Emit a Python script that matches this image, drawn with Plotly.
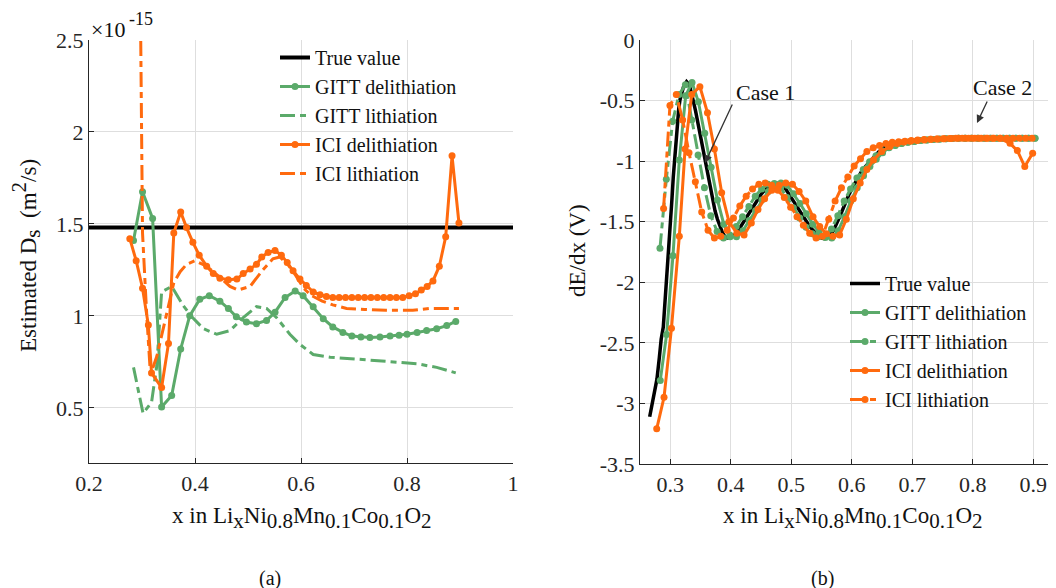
import plotly.graph_objects as go

# page body has an 8px default margin, so the figure is 8px smaller and reference pixels are shifted by 8
OFF = 8
W, H = 1056 - OFF, 588 - OFF
GREEN = "#5BAA6A"
ORANGE = "#FF6A0E"
FONT = "Liberation Serif, Times New Roman, Times, serif"
LITH_DASH = "15px,5px,6px,5px"

# ---------------- Panel (a): estimated diffusivity (x1e-15 m^2/s) ----------------
true_x_a = [0.2, 1.0]
true_d = [1.48, 1.48]

gitt_del_x_a = [0.284, 0.301, 0.32, 0.337, 0.356, 0.373, 0.39, 0.409, 0.427, 0.447, 0.463, 0.478,
                0.497, 0.516, 0.535, 0.551, 0.57, 0.589, 0.604, 0.623, 0.642, 0.66, 0.679, 0.696,
                0.713, 0.73, 0.749, 0.768, 0.785, 0.80, 0.819, 0.837, 0.856, 0.875, 0.892]
gitt_del_d = [1.41, 1.675, 1.53, 0.505, 0.567, 0.82, 1.0, 1.09, 1.11, 1.08, 1.04, 0.995,
              0.967, 0.957, 0.975, 1.02, 1.10, 1.135, 1.11, 1.05, 0.985, 0.94, 0.91, 0.89,
              0.885, 0.882, 0.885, 0.89, 0.895, 0.90, 0.91, 0.92, 0.93, 0.947, 0.97]

gitt_lit_x_a = [0.284, 0.302, 0.318, 0.328, 0.334, 0.337, 0.356, 0.378, 0.394, 0.416, 0.441, 0.466,
                0.491, 0.516, 0.535, 0.554, 0.579, 0.598, 0.623, 0.655, 0.705, 0.768, 0.818, 0.856, 0.892]
gitt_lit_d = [0.72, 0.47, 0.53, 0.73, 1.0, 1.13, 1.16, 1.055, 0.995, 0.93, 0.90, 0.92,
              0.99, 1.05, 1.04, 0.99, 0.90, 0.845, 0.79, 0.775, 0.765, 0.753, 0.74, 0.72, 0.69]

ici_del_x_a = [0.277, 0.289, 0.301, 0.312, 0.318, 0.337, 0.35, 0.36, 0.373, 0.384, 0.396, 0.408,
               0.422, 0.4345, 0.447, 0.463, 0.479, 0.491, 0.504, 0.516, 0.526, 0.538, 0.551, 0.563,
               0.574, 0.585, 0.598, 0.61, 0.623, 0.636, 0.648, 0.66, 0.672, 0.684, 0.696, 0.708,
               0.72, 0.732, 0.744, 0.756, 0.768, 0.78, 0.792, 0.804, 0.816, 0.827, 0.838, 0.849,
               0.861, 0.873, 0.885, 0.898]
ici_del_d = [1.42, 1.30, 1.15, 0.95, 0.69, 0.61, 0.85, 1.45, 1.565, 1.48, 1.40, 1.33,
             1.27, 1.23, 1.205, 1.196, 1.20, 1.23, 1.255, 1.28, 1.32, 1.345, 1.355, 1.33,
             1.29, 1.245, 1.20, 1.165, 1.13, 1.115, 1.105, 1.10, 1.10, 1.10, 1.10, 1.10,
             1.10, 1.10, 1.10, 1.10, 1.10, 1.10, 1.10, 1.11, 1.12, 1.14, 1.16, 1.19,
             1.27, 1.43, 1.87, 1.505]

ici_lit_x_a = [0.296, 0.301, 0.309, 0.316, 0.328, 0.34, 0.353, 0.36, 0.372, 0.384, 0.4, 0.422,
               0.447, 0.466, 0.481, 0.504, 0.528, 0.547, 0.56, 0.575, 0.59, 0.605, 0.62, 0.64,
               0.66, 0.686, 0.72, 0.76, 0.811, 0.843, 0.87, 0.898]
ici_lit_d = [3.0, 1.45, 1.0, 0.68, 0.78, 0.93, 1.09, 1.18, 1.24, 1.28, 1.30, 1.27,
             1.21, 1.16, 1.14, 1.16, 1.25, 1.31, 1.32, 1.28, 1.22, 1.15, 1.11, 1.08,
             1.06, 1.04, 1.035, 1.03, 1.03, 1.04, 1.04, 1.04]

# ---------------- Panel (b): dE/dx (V) ----------------
true_x_b = [0.266, 0.270, 0.275, 0.278, 0.282, 0.285, 0.2885, 0.291, 0.294, 0.297, 0.300,
            0.303, 0.305, 0.308, 0.311, 0.314, 0.316, 0.319, 0.322, 0.327, 0.330, 0.333, 0.336,
            0.338, 0.342, 0.346, 0.350, 0.354, 0.358, 0.362, 0.366, 0.370, 0.374, 0.378, 0.382,
            0.386, 0.390, 0.394, 0.398, 0.402, 0.406, 0.410, 0.415, 0.420, 0.425, 0.430, 0.435,
            0.440, 0.445, 0.450, 0.455, 0.460, 0.465, 0.470, 0.475, 0.480, 0.485, 0.490, 0.495,
            0.500, 0.505, 0.510, 0.515, 0.520, 0.525, 0.530, 0.535, 0.540, 0.545, 0.550, 0.555,
            0.560, 0.565, 0.570, 0.575, 0.580, 0.585, 0.590, 0.595, 0.600, 0.605, 0.610, 0.615,
            0.620, 0.625, 0.630, 0.636, 0.645, 0.652, 0.660, 0.670, 0.680, 0.690, 0.700, 0.720,
            0.740, 0.760, 0.780, 0.800, 0.850, 0.908]
true_dedx = [-3.11, -3.00, -2.87, -2.80, -2.62, -2.47, -2.37, -2.20, -1.95, -1.75, -1.54,
             -1.30, -1.13, -0.92, -0.715, -0.57, -0.495, -0.43, -0.385, -0.344, -0.36, -0.40, -0.45,
             -0.50, -0.59, -0.69, -0.79, -0.90, -1.01, -1.12, -1.22, -1.32, -1.41, -1.48, -1.54,
             -1.585, -1.62, -1.635, -1.635, -1.625, -1.61, -1.59, -1.55, -1.51, -1.47, -1.43, -1.39,
             -1.35, -1.31, -1.275, -1.245, -1.22, -1.20, -1.185, -1.18, -1.185, -1.20, -1.225, -1.26,
             -1.30, -1.34, -1.38, -1.42, -1.46, -1.50, -1.535, -1.565, -1.595, -1.62, -1.635, -1.64,
             -1.63, -1.61, -1.57, -1.52, -1.46, -1.40, -1.33, -1.28, -1.23, -1.18, -1.135, -1.095,
             -1.06, -1.03, -1.00, -0.965, -0.92, -0.895, -0.875, -0.86, -0.85, -0.84, -0.835, -0.825,
             -0.818, -0.814, -0.812, -0.81, -0.81, -0.81]

gitt_del_x_b = [0.2835, 0.294, 0.3045, 0.315, 0.3255, 0.336, 0.3465, 0.357, 0.3675, 0.378, 0.3885, 0.399,
                0.4095, 0.42, 0.4305, 0.441, 0.4515, 0.462, 0.4725, 0.483, 0.4935, 0.504, 0.5145, 0.525,
                0.5355, 0.546, 0.5565, 0.567, 0.5775, 0.588, 0.5985, 0.609, 0.6195, 0.63, 0.6405, 0.651,
                0.6615, 0.672, 0.6825, 0.693, 0.7035, 0.714, 0.7245, 0.735, 0.7455, 0.756, 0.7665, 0.777,
                0.7875, 0.798, 0.8085, 0.819, 0.8295, 0.84, 0.8505, 0.861, 0.8715, 0.882, 0.8925, 0.903]
gitt_del_dedx = [-2.81, -2.43, -1.78, -0.99, -0.46, -0.35, -0.51, -0.77, -1.05, -1.32, -1.52, -1.625,
                 -1.625, -1.575, -1.49, -1.41, -1.32, -1.25, -1.20, -1.18, -1.20, -1.27, -1.35, -1.435,
                 -1.52, -1.585, -1.63, -1.635, -1.575, -1.46, -1.33, -1.22, -1.12, -1.045, -0.985, -0.93,
                 -0.89, -0.87, -0.855, -0.845, -0.838, -0.83, -0.826, -0.822, -0.818, -0.816, -0.814, -0.812,
                 -0.811, -0.81, -0.81, -0.81, -0.81, -0.81, -0.81, -0.81, -0.81, -0.81, -0.81, -0.81]

gitt_lit_x_b = [0.283, 0.2935, 0.304, 0.3145, 0.325, 0.3355, 0.346, 0.3565, 0.367, 0.3775, 0.388, 0.3985,
                0.409, 0.4195, 0.43, 0.4405, 0.451, 0.4615, 0.472, 0.4825, 0.493, 0.5035, 0.514, 0.5245,
                0.535, 0.5455, 0.556, 0.5665, 0.577, 0.5875, 0.598, 0.6085, 0.619, 0.6295, 0.64, 0.6505,
                0.661, 0.6715, 0.682, 0.6925, 0.703, 0.7135, 0.724, 0.7345, 0.745, 0.7555, 0.766, 0.7765,
                0.787, 0.7975, 0.808, 0.8185, 0.829, 0.8395, 0.85, 0.8605, 0.871, 0.8815, 0.892, 0.9025]
gitt_lit_dedx = [-1.72, -1.15, -0.67, -0.45, -0.37, -0.66, -0.95, -1.22, -1.45, -1.58, -1.635, -1.61,
                 -1.54, -1.46, -1.375, -1.29, -1.23, -1.19, -1.185, -1.22, -1.30, -1.385, -1.47, -1.545,
                 -1.60, -1.625, -1.62, -1.56, -1.45, -1.33, -1.23, -1.14, -1.07, -1.005, -0.955, -0.915,
                 -0.888, -0.868, -0.855, -0.845, -0.837, -0.83, -0.826, -0.822, -0.819, -0.816, -0.814, -0.812,
                 -0.811, -0.81, -0.81, -0.81, -0.81, -0.81, -0.81, -0.81, -0.81, -0.81, -0.81, -0.81]

ici_del_x_b = [0.2776, 0.2897, 0.302, 0.315, 0.3245, 0.3355, 0.349, 0.3615, 0.373, 0.385, 0.397, 0.41,
               0.422, 0.434, 0.445, 0.456, 0.468, 0.48, 0.491, 0.502, 0.513, 0.524, 0.536, 0.547,
               0.558, 0.569, 0.58, 0.591, 0.6026, 0.614, 0.625, 0.636, 0.6495, 0.663, 0.675, 0.686,
               0.697, 0.708, 0.72, 0.731, 0.742, 0.753, 0.765, 0.776, 0.788, 0.799, 0.81, 0.822,
               0.833, 0.845, 0.8616, 0.8737, 0.886, 0.899]
ici_del_dedx = [-3.21, -2.95, -2.38, -1.62, -0.90, -0.45, -0.385, -0.60, -0.90, -1.26, -1.50, -1.595,
                -1.61, -1.51, -1.40, -1.31, -1.24, -1.20, -1.18, -1.19, -1.25, -1.33, -1.46, -1.54,
                -1.60, -1.62, -1.61, -1.48, -1.31, -1.18, -1.07, -0.99, -0.92, -0.88, -0.855, -0.842,
                -0.835, -0.83, -0.825, -0.82, -0.818, -0.815, -0.813, -0.812, -0.811, -0.81, -0.81, -0.81,
                -0.81, -0.812, -0.853, -0.913, -1.045, -0.935]

ici_lit_x_b = [0.289, 0.2995, 0.31, 0.3205, 0.331, 0.3415, 0.352, 0.3625, 0.373, 0.3835, 0.394, 0.4045,
               0.415, 0.4255, 0.436, 0.4465, 0.457, 0.4675, 0.478, 0.4885, 0.499, 0.5095, 0.52, 0.5305,
               0.541, 0.5515, 0.562, 0.5725, 0.583, 0.5935, 0.604, 0.6145, 0.625, 0.6355, 0.646, 0.6565,
               0.667, 0.6775, 0.688, 0.6985, 0.709, 0.7195, 0.73, 0.7405, 0.751, 0.7615, 0.772, 0.7825,
               0.793, 0.8035, 0.814, 0.8245, 0.835, 0.8455, 0.856, 0.8665, 0.877, 0.8875, 0.898]
ici_lit_dedx = [-1.39, -0.54, -0.45, -0.66, -0.93, -1.17, -1.42, -1.57, -1.635, -1.62, -1.57, -1.47,
                -1.37, -1.29, -1.23, -1.19, -1.18, -1.20, -1.24, -1.30, -1.38, -1.46, -1.53, -1.595,
                -1.635, -1.62, -1.48, -1.33, -1.22, -1.13, -1.04, -0.98, -0.92, -0.89, -0.87, -0.855,
                -0.845, -0.84, -0.835, -0.83, -0.826, -0.822, -0.819, -0.817, -0.815, -0.813, -0.812, -0.811,
                -0.81, -0.81, -0.81, -0.81, -0.81, -0.81, -0.81, -0.81, -0.81, -0.81, -0.81]

names = ["True value", "GITT delithiation", "GITT lithiation", "ICI delithiation", "ICI lithiation"]

x_ticks_a = [0.2, 0.4, 0.6, 0.8, 1.0]
x_ticktext_a = ["0.2", "0.4", "0.6", "0.8", "1"]
y_ticks_a = [0.5, 1.0, 1.5, 2.0, 2.5]
y_ticktext_a = ["0.5", "1", "1.5", "2", "2.5"]
x_ticks_b = [0.3, 0.4, 0.5, 0.6, 0.7, 0.8, 0.9]
x_ticktext_b = ["0.3", "0.4", "0.5", "0.6", "0.7", "0.8", "0.9"]
y_ticks_b = [0, -0.5, -1, -1.5, -2, -2.5, -3, -3.5]
y_ticktext_b = ["0", "-0.5", "-1", "-1.5", "-2", "-2.5", "-3", "-3.5"]

fig = go.Figure()

# panel (a)
fig.add_trace(go.Scatter(x=true_x_a, y=true_d, mode="lines", name=names[0],
                         line=dict(color="black", width=4), xaxis="x", yaxis="y", legend="legend"))
fig.add_trace(go.Scatter(x=gitt_del_x_a, y=gitt_del_d, mode="lines+markers", name=names[1],
                         line=dict(color=GREEN, width=3), marker=dict(size=7, color=GREEN),
                         xaxis="x", yaxis="y", legend="legend"))
fig.add_trace(go.Scatter(x=gitt_lit_x_a, y=gitt_lit_d, mode="lines", name=names[2],
                         line=dict(color=GREEN, width=3, dash=LITH_DASH),
                         xaxis="x", yaxis="y", legend="legend"))
fig.add_trace(go.Scatter(x=ici_del_x_a, y=ici_del_d, mode="lines+markers", name=names[3],
                         line=dict(color=ORANGE, width=3), marker=dict(size=7, color=ORANGE),
                         xaxis="x", yaxis="y", legend="legend"))
fig.add_trace(go.Scatter(x=ici_lit_x_a, y=ici_lit_d, mode="lines", name=names[4],
                         line=dict(color=ORANGE, width=3, dash=LITH_DASH),
                         xaxis="x", yaxis="y", legend="legend"))

# panel (b)
fig.add_trace(go.Scatter(x=true_x_b, y=true_dedx, mode="lines", name=names[0],
                         line=dict(color="black", width=3.5), xaxis="x2", yaxis="y2", legend="legend2"))
fig.add_trace(go.Scatter(x=gitt_del_x_b, y=gitt_del_dedx, mode="lines+markers", name=names[1],
                         line=dict(color=GREEN, width=3), marker=dict(size=7, color=GREEN),
                         xaxis="x2", yaxis="y2", legend="legend2"))
fig.add_trace(go.Scatter(x=gitt_lit_x_b, y=gitt_lit_dedx, mode="lines+markers", name=names[2],
                         line=dict(color=GREEN, width=3, dash=LITH_DASH), marker=dict(size=7, color=GREEN),
                         xaxis="x2", yaxis="y2", legend="legend2"))
fig.add_trace(go.Scatter(x=ici_del_x_b, y=ici_del_dedx, mode="lines+markers", name=names[3],
                         line=dict(color=ORANGE, width=3), marker=dict(size=7, color=ORANGE),
                         xaxis="x2", yaxis="y2", legend="legend2"))
fig.add_trace(go.Scatter(x=ici_lit_x_b, y=ici_lit_dedx, mode="lines+markers", name=names[4],
                         line=dict(color=ORANGE, width=3, dash=LITH_DASH), marker=dict(size=7, color=ORANGE),
                         xaxis="x2", yaxis="y2", legend="legend2"))

def px(xp):
    return (xp - OFF) / W

def py(yp):
    return 1 - (yp - OFF) / H

axis_common = dict(showgrid=True, gridcolor="#dedede", gridwidth=1, zeroline=False,
                   showline=True, linecolor="#262626", linewidth=1.2,
                   ticks="inside", ticklen=5, tickcolor="#262626", automargin=False,
                   tickfont=dict(family=FONT, size=22, color="#262626"), mirror=False)

fig.update_layout(
    width=W, height=H,
    margin=dict(l=0, r=0, t=0, b=0, pad=0, autoexpand=False),
    paper_bgcolor="white", plot_bgcolor="white",
    font=dict(family=FONT, size=20, color="#111111"),
    xaxis=dict(domain=[px(89), px(513)], range=[0.2, 1.0], anchor="y",
               tickvals=x_ticks_a, ticktext=x_ticktext_a, **axis_common),
    yaxis=dict(domain=[py(463), py(40)], range=[0.2, 2.5], anchor="x",
               tickvals=y_ticks_a, ticktext=y_ticktext_a, **axis_common),
    xaxis2=dict(domain=[px(640), 1.0], range=[0.25, 0.25 + 416 / 605], anchor="y2",
                tickvals=x_ticks_b, ticktext=x_ticktext_b, **axis_common),
    yaxis2=dict(domain=[py(464), py(40)], range=[-3.5, 0], anchor="x2",
                tickvals=y_ticks_b, ticktext=y_ticktext_b, **axis_common),
    legend=dict(x=px(275), y=py(38), xanchor="left", yanchor="top",
                bgcolor="rgba(0,0,0,0)", font=dict(family=FONT, size=20, color="#111111"),
                tracegroupgap=0, itemwidth=30),
    legend2=dict(x=px(845), y=py(264), xanchor="left", yanchor="top",
                 bgcolor="rgba(0,0,0,0)", font=dict(family=FONT, size=20, color="#111111"),
                 tracegroupgap=0, itemwidth=30),
    showlegend=True,
)

ann_font = dict(family=FONT, size=23, color="#111111")
SUB = '<span style="font-size:21px">{}</span>'

def sub(t):
    return "<sub>" + SUB.format(t) + "</sub>"

def sup(t):
    return "<sup>" + SUB.format(t) + "</sup>"

def note(text, x, y, xa="center", ya="middle", **kw):
    d = dict(text=text, x=px(x), y=py(y), xref="paper", yref="paper",
             xanchor=xa, yanchor=ya, showarrow=False, font=kw.pop("font", ann_font))
    d.update(kw)
    return d

xtitle = "x in Li" + sub("x") + "Ni" + sub("0.8") + "Mn" + sub("0.1") + "Co" + sub("0.1") + "O" + sub("2")

annotations = [
    note("×10", 89, 30, xa="left", font=dict(family=FONT, size=22, color="#111111")),
    note("-15", 127, 19, xa="left", font=dict(family=FONT, size=18, color="#111111")),
    note("Estimated D" + sub("s") + "  (m" + sup("2") + "/s)", 26, 256, textangle=-90),
    note("dE/dx (V)", 577, 251, textangle=-90),
    note(xtitle, 302, 518),
    note(xtitle, 853, 518),
    note("(a)", 270, 578, font=dict(family=FONT, size=20, color="#111111")),
    note("(b)", 822, 578, font=dict(family=FONT, size=20, color="#111111")),
    dict(text="Case 1", x=0.4054, y=-0.43, xref="x2", yref="y2", xanchor="left", yanchor="middle",
         showarrow=False, font=dict(family=FONT, size=22, color="#111111")),
    dict(text="Case 2", x=0.797, y=-0.388, xref="x2", yref="y2", xanchor="left", yanchor="middle",
         showarrow=False, font=dict(family=FONT, size=22, color="#111111")),
    dict(text="", x=0.3574, y=-1.015, ax=0.4037, ay=-0.52, xref="x2", yref="y2",
         axref="x2", ayref="y2", showarrow=True, arrowhead=2, arrowsize=1.2, arrowwidth=1.3,
         arrowcolor="#333333"),
    dict(text="", x=0.807, y=-0.685, ax=0.825, ay=-0.495, xref="x2", yref="y2",
         axref="x2", ayref="y2", showarrow=True, arrowhead=2, arrowsize=1.2, arrowwidth=1.3,
         arrowcolor="#333333"),
]
fig.update_layout(annotations=annotations)

fig.write_html("out.html")
